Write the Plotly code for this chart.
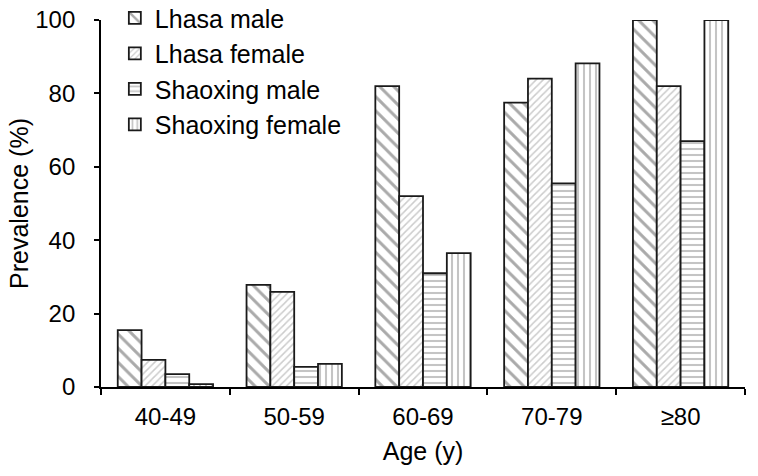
import plotly.graph_objects as go

age_groups = ["40-49", "50-59", "60-69", "70-79", "≥80"]
lhasa_male = [15.5, 27.8, 82.0, 77.5, 100.0]
lhasa_female = [7.4, 25.9, 52.0, 84.0, 82.0]
shaoxing_male = [3.5, 5.5, 31.0, 55.5, 67.0]
shaoxing_female = [0.8, 6.3, 36.5, 88.2, 100.0]

series = [
    ("Lhasa male", lhasa_male, "\\", "#555555", 10, 0.3),
    ("Lhasa female", lhasa_female, "/", "#9a9a9a", 5, 0.3),
    ("Shaoxing male", shaoxing_male, "-", "#8a8a8a", 6, 0.35),
    ("Shaoxing female", shaoxing_female, "|", "#8a8a8a", 6, 0.35),
]

fig = go.Figure()
for name, vals, shape, fg, size, sol in series:
    fig.add_trace(go.Bar(
        x=age_groups, y=vals, name=name,
        marker=dict(
            color="white",
            line=dict(color="#1a1a1a", width=1.8),
            pattern=dict(shape=shape, fgcolor=fg, bgcolor="white", size=size, solidity=sol),
        ),
    ))

font = "Liberation Sans, Arial, sans-serif"
fig.update_layout(
    width=758, height=476,
    margin=dict(l=101, r=13, t=20, b=89, autoexpand=False),
    paper_bgcolor="white", plot_bgcolor="white",
    barmode="group", bargap=0.26, bargroupgap=0,
    font=dict(family=font, size=24, color="black"),
    showlegend=True,
    legend=dict(x=0.0215, y=1.068, xanchor="left", yanchor="top",
                bgcolor="rgba(0,0,0,0)", font=dict(size=25),
                traceorder="normal"),
    xaxis=dict(showline=True, linecolor="black", linewidth=1.8,
               ticks="outside", tickson="boundaries", ticklen=6, tickcolor="black",
               tickwidth=1.5, ticklabelstandoff=7, ticklabeloverflow="allow",
               showgrid=False, title=dict(text="Age (y)", standoff=14, font=dict(size=25))),
    yaxis=dict(range=[0, 100], showline=True, linecolor="black", linewidth=1.8,
               ticks="outside", ticklen=5, tickcolor="black", tickwidth=1.5, dtick=20,
               ticklabelstandoff=14, ticklabeloverflow="allow",
               showgrid=False, zeroline=False,
               title=dict(text="Prevalence (%)", standoff=0, font=dict(size=25))),
)

fig.write_html("out.html", config={"displayModeBar": False},
               post_script="document.body.style.margin='0';")
